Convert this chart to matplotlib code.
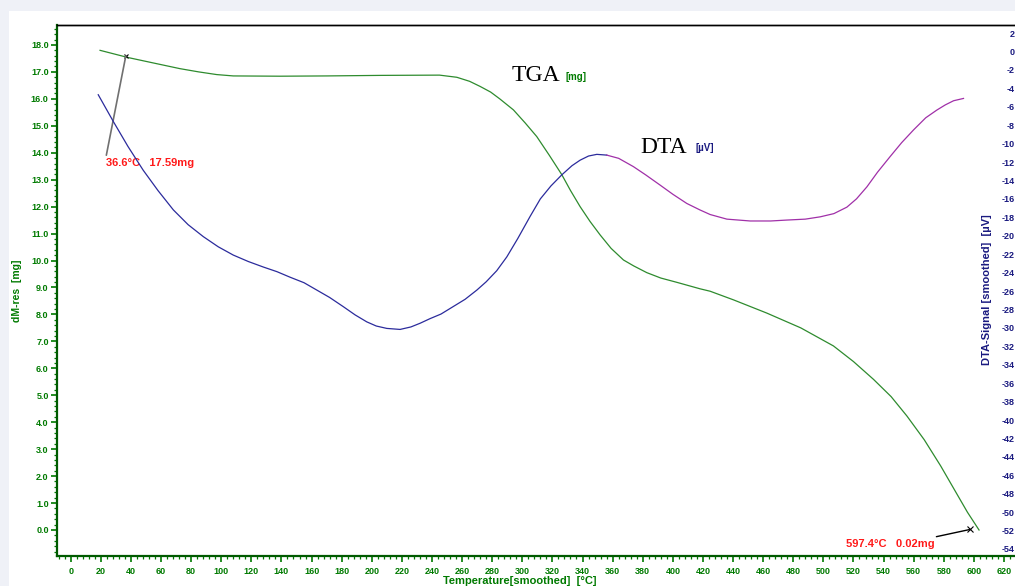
import matplotlib
matplotlib.use("Agg")
import matplotlib.pyplot as plt
from matplotlib.patches import Rectangle
from matplotlib.ticker import MultipleLocator, FormatStrFormatter

# TGA (mg) vs temperature (°C)
tga_temp = [19.5, 38.3, 55, 72.6, 85, 97, 108, 139, 170, 205.5, 245, 256.5, 265, 272, 279,
            285, 294.1, 302, 309.6, 318, 326.2, 332, 338.4, 345, 351.7, 359, 367.2, 374,
            382.7, 392, 402.7, 418.1, 424.8, 440.3, 462.4, 485, 506.7, 520, 533.3, 545,
            555.5, 567, 577.9, 587, 595.7, 603.4]
tga_mass = [17.80, 17.53, 17.33, 17.12, 17.0, 16.90, 16.85, 16.84, 16.85, 16.87, 16.88, 16.80,
            16.65, 16.46, 16.25, 16.0, 15.59, 15.1, 14.6, 13.9, 13.19, 12.6, 12.0, 11.45,
            10.95, 10.45, 10.02, 9.8, 9.55, 9.35, 9.19, 8.95, 8.86, 8.54, 8.05, 7.5, 6.83,
            6.25, 5.59, 4.95, 4.23, 3.35, 2.38, 1.5, 0.66, 0.0]

# DTA (µV) — blue part (up to peak) and purple part
dta_temp_a = [18.3, 28.3, 38, 48.2, 58, 68.2, 78, 88.1, 98, 108, 118, 128, 137, 145.7, 155,
              163.5, 172, 181.1, 189, 196.7, 203, 210, 218.8, 226, 232.1, 238.7, 246, 254,
              262, 269.8, 276, 283, 289.7, 297, 305.2, 312, 319, 326.2, 333, 338.4, 344,
              349.5, 356.1]
dta_sig_a = [-4.7, -7.6, -10.3, -12.9, -15.1, -17.2, -18.8, -20.1, -21.2, -22.1, -22.8, -23.4,
             -23.9, -24.5, -25.1, -25.9, -26.7, -27.7, -28.6, -29.35, -29.8, -30.06, -30.17,
             -29.9, -29.5, -29.0, -28.5, -27.7, -26.9, -25.9, -25.0, -23.8, -22.3, -20.3,
             -17.9, -16.0, -14.6, -13.4, -12.4, -11.8, -11.35, -11.17, -11.25]
dta_temp_b = [356.1, 364, 373.8, 382, 391.5, 400, 409.3, 418, 424.8, 435.9, 451.4, 465, 475.7,
              488, 497.9, 507, 515.6, 522, 528.9, 536, 544.4, 552, 560, 568, 575.4, 581,
              586.5, 593.1]
dta_sig_b = [-11.25, -11.6, -12.5, -13.4, -14.5, -15.5, -16.5, -17.2, -17.7, -18.2, -18.4,
             -18.4, -18.3, -18.2, -17.95, -17.6, -16.9, -16.0, -14.7, -13.1, -11.4, -9.9,
             -8.5, -7.2, -6.36, -5.8, -5.35, -5.1]

marks = [(36.6, 17.59, "36.6°C   17.59mg"), (597.4, 0.02, "597.4°C   0.02mg")]

green = "#007a00"
navy = "#1a1a80"

plt.rcParams['font.family'] = ['Liberation Sans', 'DejaVu Sans']
plt.rcParams['axes.unicode_minus'] = False

fig = plt.figure(figsize=(10.15, 5.86), dpi=100, facecolor="#eff1f7")
fig.patches.append(Rectangle((9 / 1015, 0), 1, 1 - 11 / 586, transform=fig.transFigure,
                             facecolor="white", edgecolor="none", zorder=-5))

ax = fig.add_axes([57 / 1015, 1 - 556 / 586, 1 - 57 / 1015, 531 / 586])
ax.patch.set_alpha(0)
ax2 = ax.twinx()

ax.plot(tga_temp, tga_mass, color="#2e8b2e", lw=0.9)
ax2.plot(dta_temp_a, dta_sig_a, color="#2b2b9c", lw=0.9)
ax2.plot(dta_temp_b, dta_sig_b, color="#a030a8", lw=0.9)

ax.set_xlim(-9.1, 627.3)
ax.set_ylim(-0.965, 18.74)
ax2.set_ylim(-54.76, 2.87)

ax.xaxis.set_major_locator(MultipleLocator(20))
ax.xaxis.set_minor_locator(MultipleLocator(4))
ax.yaxis.set_major_locator(MultipleLocator(1))
ax.yaxis.set_minor_locator(MultipleLocator(0.2))
ax.yaxis.set_major_formatter(FormatStrFormatter('%.1f'))
ax.set_xticks(range(0, 621, 20))

ax.tick_params(axis='both', which='both', colors=green, direction='out')
ax.tick_params(axis='x', which='major', length=4, width=1.2, pad=4)
ax.tick_params(axis='x', which='minor', length=2.5, width=0.9)
ax.tick_params(axis='y', which='major', length=4, width=1.2, pad=2)
ax.tick_params(axis='y', which='minor', length=2.5, width=0.9)
for lab in ax.get_xticklabels() + ax.get_yticklabels():
    lab.set_fontweight('bold')
    lab.set_fontsize(6.5)

ax2.set_yticks(range(2, -55, -2))
ax2.tick_params(axis='y', length=0, pad=0, labelcolor=navy)
for lab in ax2.get_yticklabels():
    lab.set_fontweight('bold')
    lab.set_fontsize(6.5)
    lab.set_horizontalalignment('right')

for a in (ax, ax2):
    a.spines['right'].set_visible(False)
    a.spines['top'].set_color('black')
    a.spines['top'].set_linewidth(1.0)
ax.spines['left'].set_color("#005a00")
ax.spines['left'].set_linewidth(1.6)
ax.spines['bottom'].set_color("#005a00")
ax.spines['bottom'].set_linewidth(1.6)
ax2.spines['left'].set_visible(False)
ax2.spines['bottom'].set_visible(False)

fig.text(17 / 1015, 1 - 291 / 586, "dM-res  [mg]", rotation=90, color=green,
         fontsize=7.5, fontweight='bold', ha='center', va='center')
fig.text(987 / 1015, 1 - 290 / 586, "DTA-Signal [smoothed]  [µV]", rotation=90, color=navy,
         fontsize=8, fontweight='bold', ha='center', va='center')
fig.text(520 / 1015, 1 - 581 / 586, "Temperature[smoothed]  [°C]", color=green,
         fontsize=8, fontweight='bold', ha='center', va='center')

# curve names
fig.text(512 / 1015, 1 - 76 / 586, "TGA", family='Liberation Serif', fontsize=17,
         ha='left', va='center')
fig.text(565 / 1015, 1 - 77 / 586, "[mg]", color=green, fontsize=7, fontweight='bold',
         ha='left', va='center')
fig.text(640 / 1015, 1 - 147 / 586, "DTA", family='Liberation Serif', fontsize=17,
         ha='left', va='center')
fig.text(695 / 1015, 1 - 148 / 586, "[µV]", color=navy, fontsize=7, fontweight='bold',
         ha='left', va='center')

# red point annotations
t0, m0, s0 = marks[0]
ax.annotate(s0, xy=(t0, m0), xytext=(-20, -102), textcoords='offset pixels',
            ha='left', va='top', color='#ff1a1a', fontsize=8, fontweight='bold',
            arrowprops=dict(arrowstyle='-', color='#707070', lw=1.2, shrinkA=0, shrinkB=0,
                            relpos=(0, 1)))
ax.plot([t0], [m0], marker='x', color='black', ms=3, mew=0.8)
t1, m1, s1 = marks[1]
ax.annotate(s1, xy=(t1, m1), xytext=(-35, -10), textcoords='offset pixels',
            ha='right', va='top', color='#ff1a1a', fontsize=8, fontweight='bold',
            arrowprops=dict(arrowstyle='-', color='black', lw=1.0, shrinkA=0, shrinkB=0,
                            relpos=(0.87, 1)))
ax.plot([t1], [m1], marker='x', color='black', ms=4, mew=0.8)

fig.savefig("out.png", dpi=100, facecolor=fig.get_facecolor())
